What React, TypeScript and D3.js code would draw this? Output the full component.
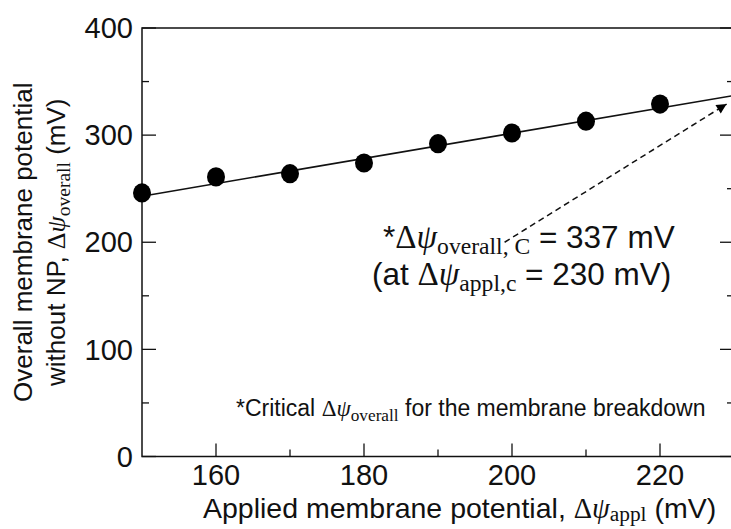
import React, { useRef, useEffect } from 'react';
import * as d3 from 'd3';

const APPLIED = [150, 160, 170, 180, 190, 200, 210, 220];
const OVERALL = [246, 261, 264, 274, 292, 302, 313, 329];
const FIT_X = [150, 230];
const FIT_Y = [243, 337];
const ARROW_FROM = [199, 200];
const ARROW_TO = [229, 329];
const X_TICKS = [160, 180, 200, 220];
const X_MINOR = [170, 190, 210];
const Y_TICKS = [0, 100, 200, 300, 400];
const Y_MINOR = [50, 150, 250, 350];

const SANS = '"Liberation Sans", Arial, sans-serif';
const SERIF = '"Liberation Serif", "Times New Roman", serif';

// writes "Δψ" + subscript into a text node, then continues in sans
function addPsi(t: any, size: number, sub: string, big = 1, shift = 0.2) {
  t.append('tspan').attr('font-family', SERIF).attr('font-size', size * big).text('Δ');
  t.append('tspan').attr('font-family', SERIF).attr('font-size', size * big).attr('font-style', 'italic').text('ψ');
  t.append('tspan').attr('font-family', SERIF).attr('font-size', size * 0.75).attr('dy', size * shift).text(sub);
}

export default function App() {
  const svgRef = useRef<SVGSVGElement>(null);

  useEffect(() => {
    document.body.style.margin = '0';
    if (!svgRef.current) return;
    const width = 731, height = 529;
    const svg = d3.select(svgRef.current);
    svg.selectAll('*').remove();
    svg.attr('width', width).attr('height', height).attr('viewBox', `0 0 ${width} ${height}`);

    const x = d3.scaleLinear().domain([150, 230]).range([142, 734]);
    const y = d3.scaleLinear().domain([0, 400]).range([456.5, 28]);
    const [x0, x1] = x.range();
    const [y0, y1] = y.range();
    const ink = '#111';

    const g = svg.append('g');
    // frame
    g.append('rect').attr('x', x0).attr('y', y1).attr('width', x1 - x0).attr('height', y0 - y1)
      .attr('fill', 'none').attr('stroke', ink).attr('stroke-width', 1.5);

    // ticks, pointing inward
    X_TICKS.forEach(t => g.append('line').attr('x1', x(t)).attr('x2', x(t)).attr('y1', y0).attr('y2', y0 - 13).attr('stroke', ink).attr('stroke-width', 1.3));
    X_MINOR.forEach(t => g.append('line').attr('x1', x(t)).attr('x2', x(t)).attr('y1', y0).attr('y2', y0 - 7).attr('stroke', ink).attr('stroke-width', 1.3));
    Y_TICKS.forEach(t => {
      g.append('line').attr('x1', x0).attr('x2', x0 + 14).attr('y1', y(t)).attr('y2', y(t)).attr('stroke', ink).attr('stroke-width', 1.3);
      g.append('line').attr('x1', x1).attr('x2', x1 - 14).attr('y1', y(t)).attr('y2', y(t)).attr('stroke', ink).attr('stroke-width', 1.3);
    });
    Y_MINOR.forEach(t => {
      g.append('line').attr('x1', x0).attr('x2', x0 + 7).attr('y1', y(t)).attr('y2', y(t)).attr('stroke', ink).attr('stroke-width', 1.3);
      g.append('line').attr('x1', x1).attr('x2', x1 - 7).attr('y1', y(t)).attr('y2', y(t)).attr('stroke', ink).attr('stroke-width', 1.3);
    });

    // tick labels
    X_TICKS.forEach(t => g.append('text').attr('x', x(t)).attr('y', 485).attr('text-anchor', 'middle')
      .attr('font-family', SANS).attr('font-size', 29).attr('fill', ink).text(t));
    Y_TICKS.forEach(t => g.append('text').attr('x', 133).attr('y', y(t)).attr('dy', '0.35em').attr('text-anchor', 'end')
      .attr('font-family', SANS).attr('font-size', 29).attr('fill', ink).text(t));

    // axis titles
    const xt = g.append('text').attr('x', 203).attr('y', 518).attr('font-family', SANS).attr('font-size', 28.5).attr('fill', ink);
    xt.append('tspan').text('Applied membrane potential, ');
    addPsi(xt, 28.5, 'appl', 1, 0.1);
    xt.append('tspan').attr('dy', -28.5 * 0.1).text(' (mV)');

    const yl = g.append('g').attr('transform', `translate(0, ${(y0 + y1) / 2}) rotate(-90)`);
    yl.append('text').attr('x', 0).attr('y', 32).attr('text-anchor', 'middle').attr('font-family', SANS)
      .attr('font-size', 26).attr('fill', ink).text('Overall membrane potential');
    const yt = yl.append('text').attr('x', 0).attr('y', 65).attr('text-anchor', 'middle').attr('font-family', SANS)
      .attr('font-size', 26).attr('fill', ink);
    yt.append('tspan').text('without NP, ');
    addPsi(yt, 26, 'overall');
    yt.append('tspan').attr('dy', -26 * 0.2).text(' (mV)');

    // fitted line
    const line = d3.line<number>().x((d) => x(d)).y((_, i) => y(FIT_Y[i]));
    g.append('path').datum(FIT_X).attr('d', line).attr('fill', 'none').attr('stroke', ink).attr('stroke-width', 1.6);

    // points
    g.selectAll('.pt').data(APPLIED).enter().append('ellipse').attr('class', 'pt')
      .attr('cx', d => x(d)).attr('cy', (_, i) => y(OVERALL[i])).attr('rx', 9).attr('ry', 9.6).attr('fill', '#000');

    // dashed arrow
    const defs = svg.append('defs');
    defs.append('marker').attr('id', 'arrowHead').attr('viewBox', '0 0 10 10').attr('refX', 10).attr('refY', 5)
      .attr('markerWidth', 12).attr('markerHeight', 10).attr('markerUnits', 'userSpaceOnUse').attr('orient', 'auto')
      .append('path').attr('d', 'M0,0 L10,5 L0,10 Z').attr('fill', '#000');
    g.append('line').attr('x1', x(ARROW_FROM[0])).attr('y1', y(ARROW_FROM[1])).attr('x2', x(ARROW_TO[0])).attr('y2', y(ARROW_TO[1]))
      .attr('stroke', ink).attr('stroke-width', 1.5).attr('stroke-dasharray', '6,4').attr('marker-end', 'url(#arrowHead)');

    // annotation
    const a1 = g.append('text').attr('x', 383).attr('y', 248).attr('font-family', SANS).attr('font-size', 31.5).attr('fill', ink);
    a1.append('tspan').text('*');
    addPsi(a1, 31.5, 'overall, C', 1.05);
    a1.append('tspan').attr('dy', -31.5 * 0.2).text(' = 337 mV');
    const a2 = g.append('text').attr('x', 372).attr('y', 285).attr('font-family', SANS).attr('font-size', 31.5).attr('fill', ink);
    a2.append('tspan').text('(at ');
    addPsi(a2, 31.5, 'appl,c', 1.05);
    a2.append('tspan').attr('dy', -31.5 * 0.2).text(' = 230 mV)');

    const note = g.append('text').attr('x', 236).attr('y', 416).attr('font-family', SANS).attr('font-size', 23).attr('fill', ink);
    note.append('tspan').text('*Critical  ');
    addPsi(note, 23, 'overall');
    note.append('tspan').attr('dy', -23 * 0.2).text(' for the membrane breakdown');
  }, []);

  return (<div style={{ width: 731, height: 529, overflow: 'hidden', background: '#fff' }}><svg ref={svgRef} style={{ display: 'block' }} /></div>);
}
